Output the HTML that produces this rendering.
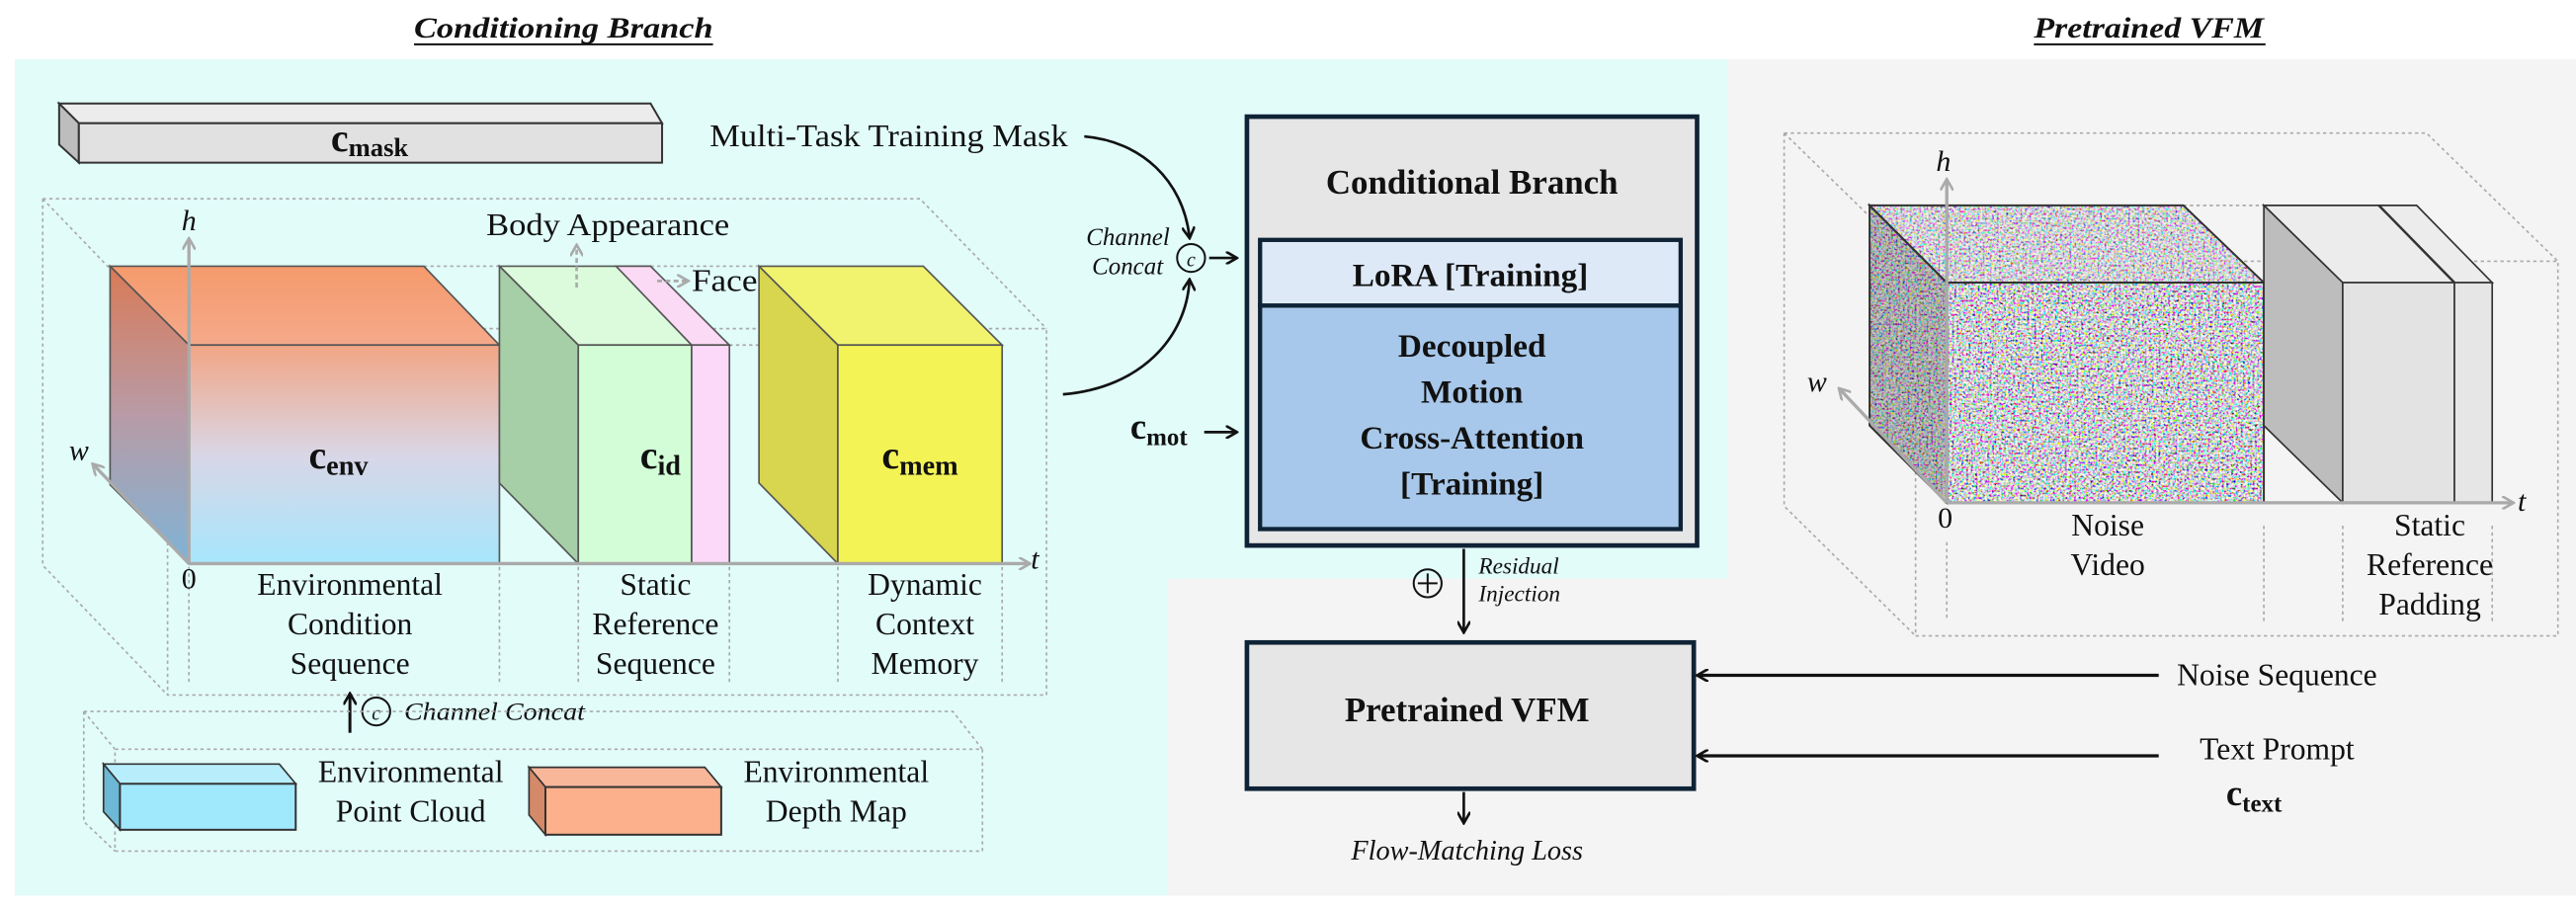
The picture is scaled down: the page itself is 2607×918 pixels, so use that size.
<!DOCTYPE html>
<html><head><meta charset="utf-8"><style>
html,body{margin:0;padding:0;background:#fff;}
svg{display:block;}
text{font-family:"Liberation Serif",serif;fill:#111;}
.b{font-weight:bold;}
.i{font-style:italic;}
</style></head><body>
<svg width="2607" height="918" viewBox="0 0 1568 552" preserveAspectRatio="none" xmlns="http://www.w3.org/2000/svg">
<defs>
<linearGradient id="gf" x1="0" y1="0" x2="0" y2="1"><stop offset="0" stop-color="#f2a584"/><stop offset="0.5" stop-color="#d9d6e6"/><stop offset="1" stop-color="#a6e6fc"/></linearGradient>
<linearGradient id="gt" x1="0" y1="0" x2="0" y2="1"><stop offset="0" stop-color="#f59a6c"/><stop offset="1" stop-color="#f5a98a"/></linearGradient>
<linearGradient id="gl" x1="0" y1="0" x2="0" y2="1"><stop offset="0" stop-color="#d97a56"/><stop offset="0.5" stop-color="#b89ba6"/><stop offset="1" stop-color="#7fb3d6"/></linearGradient>
<filter id="nz" x="0" y="0" width="1" height="1">
<feTurbulence type="fractalNoise" baseFrequency="0.7" numOctaves="2" seed="3"/>
<feColorMatrix type="matrix" values="3 0 0 0 -0.85  0 3 0 0 -0.85  0 0 3 0 -0.8  0 0 0 0 1"/>
</filter>
<marker id="ah" markerWidth="8" markerHeight="8" refX="6" refY="4" orient="auto" markerUnits="userSpaceOnUse"><path d="M0,0 L7,4 L0,8" fill="none" stroke="#111" stroke-width="1.6"/></marker>
<marker id="ag" markerWidth="8" markerHeight="8" refX="6" refY="4" orient="auto" markerUnits="userSpaceOnUse"><path d="M0,0 L7,4 L0,8" fill="none" stroke="#aaa" stroke-width="1.6"/></marker>
<clipPath id="nc"><polygon points="1138,125 1329,125 1378,172 1378,306 1185,306 1138,259"/></clipPath>
</defs>

<rect x="9" y="36" width="1043" height="509" fill="#e1fcf9"/>
<rect x="1052" y="36" width="516" height="509" fill="#f4f4f4"/>
<rect x="711" y="352" width="341" height="193" fill="#f4f4f4"/>

<text x="343" y="23" class="b i" font-size="18" text-anchor="middle" textLength="182" lengthAdjust="spacingAndGlyphs">Conditioning Branch</text>
<line x1="252" y1="27" x2="434" y2="27" stroke="#111" stroke-width="1.2"/>
<text x="1308" y="23" class="b i" font-size="18" text-anchor="middle" textLength="140" lengthAdjust="spacingAndGlyphs">Pretrained VFM</text>
<line x1="1238" y1="27" x2="1379" y2="27" stroke="#111" stroke-width="1.2"/>

<polygon points="36,63 396,63 403,75 48,75" fill="#ececec" stroke="#333" stroke-width="1.2"/>
<polygon points="36,63 48,75 48,99 36,88" fill="#bdbdbd" stroke="#333" stroke-width="1.2"/>
<rect x="48" y="75" width="355" height="24" fill="#e1e1e1" stroke="#333" stroke-width="1.2"/>
<text x="225" y="92" class="b" font-size="24" text-anchor="middle">c<tspan font-size="16" dy="3">mask</tspan></text>

<g fill="none" stroke="#aaa" stroke-width="1" stroke-dasharray="2,2">
<path d="M26,121 L560,121 L637,200 M26,121 L26,344 L102,423 M26,121 L102,200 M102,200 L637,200 L637,423 L102,423 Z"/>
<path d="M258,162 L304,162 M396,162 L461,162 M304,210 L352,210 M444,210 L510,210"/>
<path d="M115,345 L115,415 M304,345 L304,415 M352,345 L352,415 M444,345 L444,415 M510,345 L510,415 M610,345 L610,415"/>
</g>

<polygon points="67,162 258,162 304,210 115,210" fill="url(#gt)" stroke="#555" stroke-width="1"/>
<polygon points="67,162 115,210 115,343 67,295" fill="url(#gl)" stroke="#555" stroke-width="1"/>
<rect x="115" y="210" width="189" height="133" fill="url(#gf)" stroke="#555" stroke-width="1"/>
<text x="206" y="285" class="b" font-size="24" text-anchor="middle">c<tspan font-size="17" dy="4">env</tspan></text>

<polygon points="304,162 396,162 421,210 352,210" fill="#dcfbdc" stroke="#555" stroke-width="1"/>
<polygon points="375,162 396,162 444,210 421,210" fill="#fbdaf5" stroke="#555" stroke-width="1"/>
<polygon points="304,162 352,210 352,343 304,294" fill="#a6cfa7" stroke="#555" stroke-width="1"/>
<rect x="352" y="210" width="69" height="133" fill="#d2fdd6" stroke="#555" stroke-width="1"/>
<rect x="421" y="210" width="23" height="133" fill="#fcd9f9" stroke="#555" stroke-width="1"/>
<text x="402" y="285" class="b" font-size="24" text-anchor="middle">c<tspan font-size="17" dy="4">id</tspan></text>

<polygon points="462,162 562,162 610,210 510,210" fill="#f1f36f" stroke="#555" stroke-width="1"/>
<polygon points="462,162 510,210 510,343 462,294" fill="#d8d54f" stroke="#555" stroke-width="1"/>
<rect x="510" y="210" width="100" height="133" fill="#f3f356" stroke="#555" stroke-width="1"/>
<text x="560" y="285" class="b" font-size="24" text-anchor="middle">c<tspan font-size="17" dy="4">mem</tspan></text>

<g stroke="#aaa" stroke-width="2" fill="none">
<line x1="115" y1="343" x2="115" y2="146" marker-end="url(#ag)"/>
<line x1="115" y1="343" x2="626" y2="343" marker-end="url(#ag)"/>
<line x1="115" y1="343" x2="57" y2="283" marker-end="url(#ag)"/>
</g>
<text x="115" y="140" class="i" font-size="18" text-anchor="middle">h</text>
<text x="48" y="280" class="i" font-size="18" text-anchor="middle">w</text>
<text x="630" y="346" class="i" font-size="18" text-anchor="middle">t</text>
<text x="115" y="358" font-size="18" text-anchor="middle">0</text>

<line x1="351" y1="175" x2="351" y2="150" stroke="#aaa" stroke-width="1.6" stroke-dasharray="3,2" marker-end="url(#ag)"/>
<text x="370" y="143" font-size="19" text-anchor="middle" textLength="148" lengthAdjust="spacingAndGlyphs">Body Appearance</text>
<line x1="400" y1="171" x2="418" y2="171" stroke="#aaa" stroke-width="1.6" stroke-dasharray="3,2" marker-end="url(#ag)"/>
<text x="421" y="177" font-size="19" textLength="40" lengthAdjust="spacingAndGlyphs">Face</text>

<g font-size="19" text-anchor="middle">
<text x="213" y="362">Environmental</text><text x="213" y="386">Condition</text><text x="213" y="410">Sequence</text>
<text x="399" y="362">Static</text><text x="399" y="386">Reference</text><text x="399" y="410">Sequence</text>
<text x="563" y="362">Dynamic</text><text x="563" y="386">Context</text><text x="563" y="410">Memory</text>
</g>

<line x1="213" y1="446" x2="213" y2="423" stroke="#111" stroke-width="1.8" marker-end="url(#ah)"/>
<circle cx="229" cy="433" r="8.5" fill="none" stroke="#111" stroke-width="1.2"/>
<text x="229" y="438" class="i" font-size="12" text-anchor="middle">c</text>
<text x="246" y="438" class="i" font-size="15" textLength="110" lengthAdjust="spacingAndGlyphs">Channel Concat</text>

<g fill="none" stroke="#aaa" stroke-width="1" stroke-dasharray="2,2">
<path d="M51,433 L580,433 L598,456 M51,433 L51,500 L70,518 M51,433 L70,456 M70,456 L598,456 L598,518 L70,518 Z"/>
</g>
<polygon points="63,465 170,465 180,477 73,477" fill="#b8eefc" stroke="#333" stroke-width="1"/>
<polygon points="63,465 73,477 73,505 63,494" fill="#6db8d4" stroke="#333" stroke-width="1"/>
<rect x="73" y="477" width="107" height="28" fill="#a0e8fc" stroke="#333" stroke-width="1.2"/>
<polygon points="322,467 429,467 439,479 332,479" fill="#f9b79a" stroke="#333" stroke-width="1"/>
<polygon points="322,467 332,479 332,508 322,496" fill="#d48a68" stroke="#333" stroke-width="1"/>
<rect x="332" y="479" width="107" height="29" fill="#fdb08c" stroke="#333" stroke-width="1.2"/>
<g font-size="19" text-anchor="middle">
<text x="250" y="476">Environmental</text><text x="250" y="500">Point Cloud</text>
<text x="509" y="476">Environmental</text><text x="509" y="500">Depth Map</text>
</g>

<text x="432" y="89" font-size="19" textLength="218" lengthAdjust="spacingAndGlyphs">Multi-Task Training Mask</text>
<path d="M660,83 C695,86 720,110 724,144" fill="none" stroke="#111" stroke-width="1.6" marker-end="url(#ah)"/>
<path d="M647,240 C695,236 722,205 724,171" fill="none" stroke="#111" stroke-width="1.6" marker-end="url(#ah)"/>
<circle cx="725" cy="157" r="8.5" fill="none" stroke="#111" stroke-width="1.2"/>
<text x="725" y="162" class="i" font-size="12" text-anchor="middle">c</text>
<line x1="736" y1="157" x2="752" y2="157" stroke="#111" stroke-width="1.6" marker-end="url(#ah)"/>
<text x="712" y="149" class="i" font-size="15" text-anchor="end">Channel</text>
<text x="708" y="167" class="i" font-size="15" text-anchor="end">Concat</text>
<text x="688" y="267" class="b" font-size="22">c<tspan font-size="15" dy="4">mot</tspan></text>
<line x1="733" y1="263" x2="752" y2="263" stroke="#111" stroke-width="1.6" marker-end="url(#ah)"/>

<rect x="759" y="71" width="274" height="261" fill="#e6e6e6" stroke="#0f2336" stroke-width="2.8"/>
<text x="896" y="118" class="b" font-size="21" text-anchor="middle">Conditional Branch</text>
<rect x="767" y="146" width="256" height="40" fill="#dde9f7" stroke="#0f2336" stroke-width="2.6"/>
<text x="895" y="174" class="b" font-size="20" text-anchor="middle">LoRA [Training]</text>
<rect x="767" y="186" width="256" height="136" fill="#a7c8ea" stroke="#0f2336" stroke-width="2.6"/>
<g class="b" font-size="20" text-anchor="middle" font-weight="bold">
<text x="896" y="217">Decoupled</text><text x="896" y="245">Motion</text><text x="896" y="273">Cross-Attention</text><text x="896" y="301">[Training]</text>
</g>

<line x1="891" y1="334" x2="891" y2="384" stroke="#111" stroke-width="1.6" marker-end="url(#ah)"/>
<circle cx="869" cy="355" r="8.5" fill="none" stroke="#111" stroke-width="1.2"/>
<path d="M863,355 H875 M869,349 V361" stroke="#111" stroke-width="1.2"/>
<text x="900" y="349" class="i" font-size="14">Residual</text>
<text x="900" y="366" class="i" font-size="14">Injection</text>

<rect x="759" y="391" width="272" height="89" fill="#e6e6e6" stroke="#0f2336" stroke-width="2.8"/>
<text x="893" y="439" class="b" font-size="21" text-anchor="middle">Pretrained VFM</text>
<line x1="1314" y1="411" x2="1034" y2="411" stroke="#111" stroke-width="2" marker-end="url(#ah)"/>
<line x1="1314" y1="460" x2="1034" y2="460" stroke="#111" stroke-width="2" marker-end="url(#ah)"/>
<text x="1386" y="417" font-size="19" text-anchor="middle">Noise Sequence</text>
<text x="1386" y="462" font-size="19" text-anchor="middle">Text Prompt</text>
<text x="1372" y="490" class="b" font-size="22" text-anchor="middle">c<tspan font-size="15" dy="4">text</tspan></text>
<line x1="891" y1="482" x2="891" y2="500" stroke="#111" stroke-width="1.6" marker-end="url(#ah)"/>
<text x="893" y="523" class="i" font-size="17" text-anchor="middle">Flow-Matching Loss</text>

<g fill="none" stroke="#aaa" stroke-width="1" stroke-dasharray="2,2">
<path d="M1086,81 L1477,81 L1557,159 M1086,81 L1086,308 L1166,387 M1086,81 L1166,159 M1166,159 L1557,159 L1557,387 L1166,387 Z"/>
<path d="M1329,125 L1378,125 M1378,172 L1426,172"/>
<path d="M1185,330 L1185,378 M1378,320 L1378,378 M1426,320 L1426,378 M1517,320 L1517,378"/>
</g>

<g clip-path="url(#nc)"><rect x="1138" y="125" width="240" height="181" fill="#999" filter="url(#nz)"/></g>
<polygon points="1138,125 1329,125 1378,172 1185,172" fill="#e0d8e0" fill-opacity="0.25" stroke="#333" stroke-width="1.2"/>
<polygon points="1138,125 1185,172 1185,306 1138,259" fill="#555" fill-opacity="0.3" stroke="#333" stroke-width="1.2"/>
<rect x="1185" y="172" width="193" height="134" fill="none" stroke="#333" stroke-width="1.2"/>

<polygon points="1378,125 1471,125 1517,172 1426,172" fill="#ececec" stroke="#333" stroke-width="1"/>
<line x1="1448" y1="125" x2="1494" y2="172" stroke="#333" stroke-width="1.5"/>
<polygon points="1378,125 1426,172 1426,306 1378,259" fill="#bdbdbd" stroke="#333" stroke-width="1"/>
<rect x="1426" y="172" width="68" height="134" fill="#e3e3e3" stroke="#333" stroke-width="1"/>
<rect x="1494" y="172" width="23" height="134" fill="#e6e6e6" stroke="#333" stroke-width="1"/>

<g stroke="#aaa" stroke-width="2" fill="none">
<line x1="1185" y1="306" x2="1185" y2="110" marker-end="url(#ag)"/>
<line x1="1185" y1="306" x2="1529" y2="306" marker-end="url(#ag)"/>
<line x1="1185" y1="306" x2="1120" y2="237" marker-end="url(#ag)"/>
</g>
<text x="1183" y="104" class="i" font-size="18" text-anchor="middle">h</text>
<text x="1106" y="238" class="i" font-size="18" text-anchor="middle">w</text>
<text x="1535" y="311" class="i" font-size="18" text-anchor="middle">t</text>
<text x="1184" y="321" font-size="18" text-anchor="middle">0</text>
<g font-size="19" text-anchor="middle">
<text x="1283" y="326">Noise</text><text x="1283" y="350">Video</text>
<text x="1479" y="326">Static</text><text x="1479" y="350">Reference</text><text x="1479" y="374">Padding</text>
</g>
</svg>
</body></html>
